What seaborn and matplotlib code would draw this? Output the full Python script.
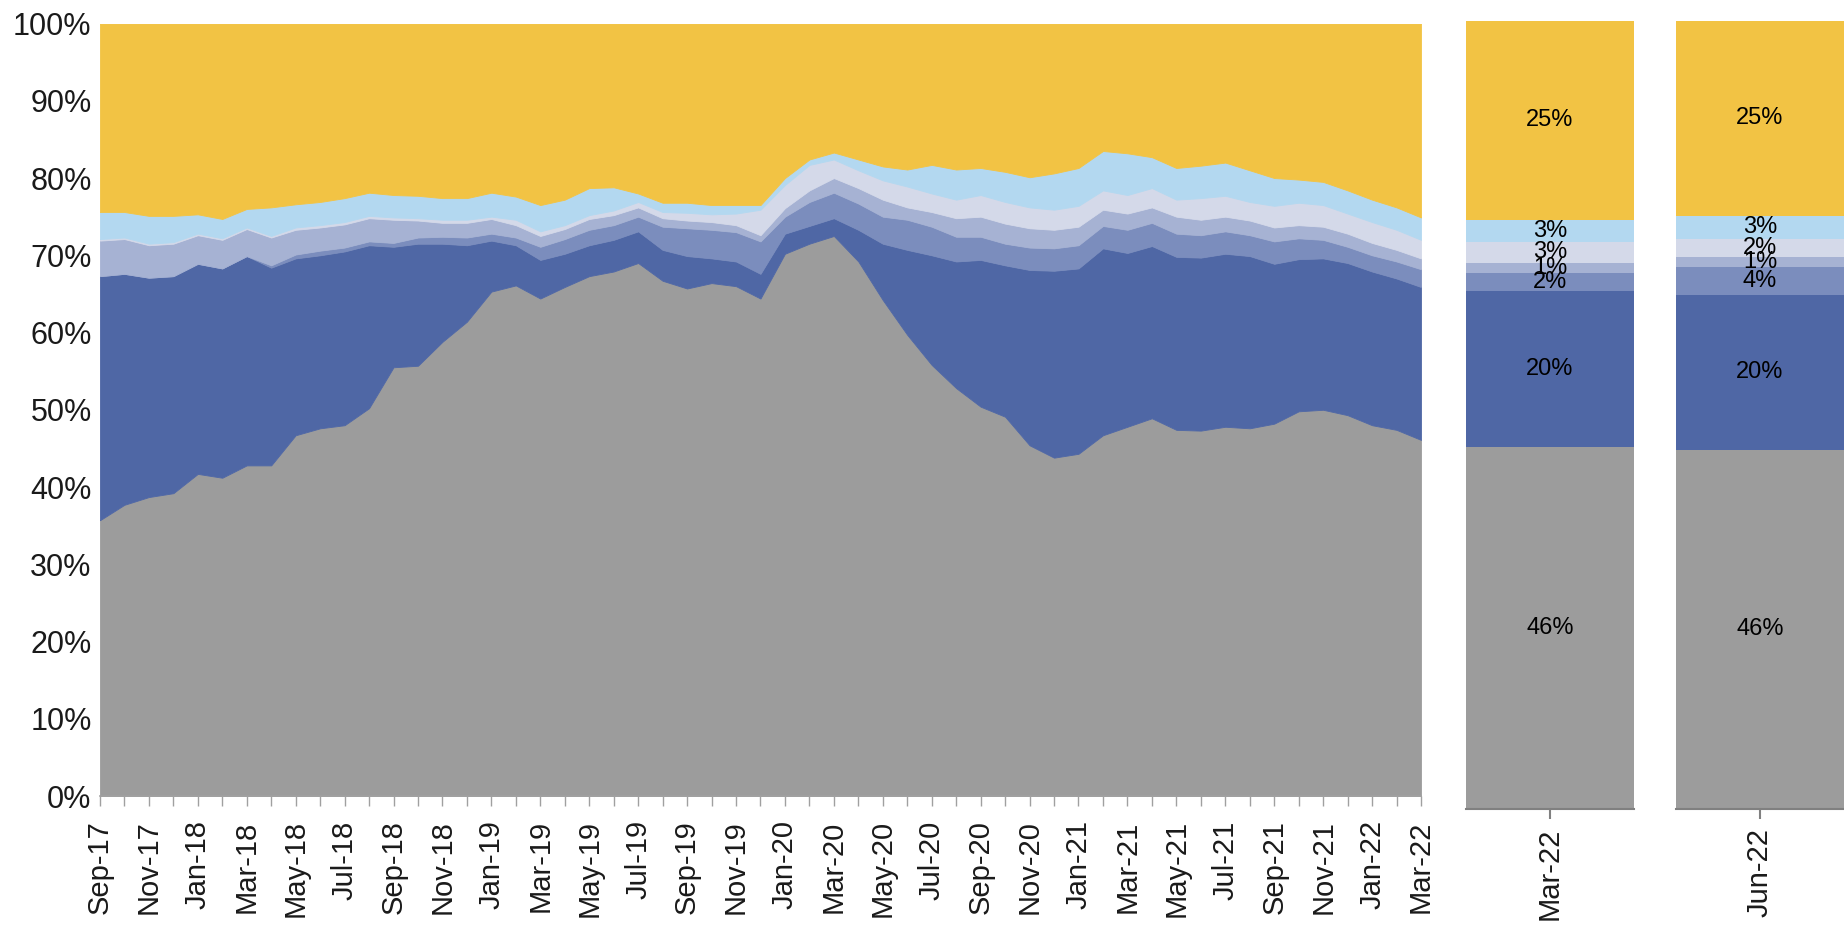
import numpy as np
import pandas as pd
import seaborn as sns
import matplotlib
matplotlib.use("Agg")
import matplotlib.pyplot as plt

sns.set_theme(style="white")
plt.rcParams["font.family"] = ["Liberation Sans", "DejaVu Sans"]

# months Sep-17 .. Mar-22
months = pd.date_range("2017-09-01", periods=55, freq="MS").strftime("%b-%y").tolist()

# shares (%), bottom layer first
grey = [35.7, 37.7, 38.7, 39.2, 41.7, 41.2, 42.8, 42.8, 46.7, 47.6, 48.0, 50.2, 55.5, 55.7, 58.8,
        61.4, 65.3, 66.1, 64.4, 65.9, 67.3, 67.9, 69.0, 66.7, 65.7, 66.4, 66.0, 64.4,
        70.2, 71.5, 72.5, 69.2, 64.2, 59.7, 55.8, 52.8, 50.4, 49.1, 45.4, 43.8, 44.3, 46.7, 47.8,
        48.9, 47.4, 47.3, 47.8, 47.6, 48.2, 49.8, 50.0, 49.3, 48.0, 47.4, 46.1]
dark_blue = [31.6, 29.9, 28.4, 28.1, 27.2, 27.1, 27.1, 25.6, 22.9, 22.4, 22.5, 21.1, 15.6, 15.8, 12.7,
             9.9, 6.6, 5.2, 5.0, 4.3, 4.0, 4.1, 4.1, 4.0, 4.2, 3.2, 3.2, 3.2,
             2.6, 2.3, 2.3, 4.1, 7.3, 11.0, 14.2, 16.4, 19.0, 19.6, 22.7, 24.2, 24.0, 24.2, 22.5,
             22.3, 22.4, 22.4, 22.4, 22.3, 20.7, 19.7, 19.6, 19.7, 19.9, 19.6, 19.8]
mid_blue = [0, 0, 0, 0, 0, 0, 0, 0.3, 0.5, 0.6, 0.5, 0.5, 0.5, 0.8, 0.9,
            1.0, 0.9, 1.0, 1.7, 1.9, 2.0, 1.9, 1.9, 3.0, 3.6, 3.7, 3.8, 4.2,
            2.2, 3.1, 3.3, 3.4, 3.5, 3.9, 3.7, 3.2, 3.0, 2.8, 2.9, 2.9, 3.0, 2.9, 3.0,
            3.0, 3.0, 2.9, 2.9, 2.7, 2.9, 2.7, 2.4, 2.1, 2.1, 2.2, 2.3]
lavender = [4.6, 4.5, 4.2, 4.2, 3.7, 3.7, 3.5, 3.6, 3.2, 3.0, 3.0, 3.0, 3.0, 2.2, 1.8,
            1.9, 1.9, 1.6, 1.4, 1.3, 1.4, 1.3, 1.2, 1.1, 1.0, 1.0, 0.9, 0.8,
            1.1, 1.5, 1.9, 2.0, 2.2, 1.6, 1.9, 2.4, 2.6, 2.6, 2.5, 2.4, 2.4, 2.1, 2.1,
            2.0, 2.2, 2.0, 1.9, 1.9, 1.8, 1.7, 1.7, 1.7, 1.6, 1.5, 1.4]
pale = [0.2, 0.2, 0.2, 0.2, 0.2, 0.2, 0.2, 0.2, 0.3, 0.3, 0.3, 0.3, 0.3, 0.3, 0.4,
        0.4, 0.3, 0.7, 0.6, 0.5, 0.5, 0.6, 0.7, 0.8, 1.0, 1.0, 1.5, 3.3,
        3.0, 3.3, 2.4, 2.3, 2.5, 2.7, 2.4, 2.4, 2.8, 2.8, 2.7, 2.6, 2.7, 2.5, 2.4,
        2.5, 2.2, 2.8, 2.7, 2.4, 2.8, 2.9, 2.8, 2.6, 2.7, 2.6, 2.4]
light_blue = [3.5, 3.3, 3.6, 3.4, 2.5, 2.5, 2.4, 3.7, 3.0, 3.0, 3.1, 3.0, 2.9, 2.9, 2.8,
              2.8, 3.1, 3.0, 3.4, 3.3, 3.5, 3.0, 1.1, 1.2, 1.3, 1.2, 1.1, 0.6,
              0.9, 0.7, 0.9, 1.4, 1.8, 2.2, 3.7, 3.9, 3.5, 3.9, 3.9, 4.7, 4.9, 5.1, 5.4,
              4.0, 4.1, 4.2, 4.3, 4.1, 3.6, 3.0, 3.0, 3.0, 2.9, 2.9, 2.9]
yellow = [24.4, 24.4, 24.9, 24.9, 24.7, 25.3, 24.0, 23.8, 23.4, 23.1, 22.6, 21.9, 22.2, 22.3, 22.6,
          22.6, 21.9, 22.4, 23.5, 22.8, 21.3, 21.2, 22.0, 23.2, 23.2, 23.5, 23.5, 23.5,
          20.0, 17.6, 16.7, 17.6, 18.5, 18.9, 18.3, 18.9, 18.7, 19.2, 19.9, 19.4, 18.7, 16.5, 16.8,
          17.3, 18.7, 18.4, 18.0, 19.0, 20.0, 20.2, 20.5, 21.6, 22.8, 23.8, 25.1]

# the two snapshot bars
bar_labels = ["Mar-22", "Jun-22"]
bar_mar22 = [45.9, 19.8, 2.3, 1.3, 2.7, 2.8, 25.2]
bar_jun22 = [45.6, 19.6, 3.6, 1.2, 2.3, 3.0, 24.7]

colors = ["#9c9c9c", "#4f67a5", "#7b8dbd", "#a6b2d3", "#d4d9e9", "#b3d8f0", "#f2c344"]

df = pd.DataFrame({"grey": grey, "dark_blue": dark_blue, "mid_blue": mid_blue,
                   "lavender": lavender, "pale": pale, "light_blue": light_blue,
                   "yellow": yellow}, index=months)
df = df.div(df.sum(axis=1), axis=0) * 100

tick_col = "#a0a0a0"
txt_col = "#1a1a1a"

fig = plt.figure(figsize=(18.44, 9.27), dpi=100)

# stacked area
ax = fig.add_axes([0.0542, 0.1413, 0.7164, 0.8333])
x = np.arange(len(months))
polys = ax.stackplot(x, *[df[c] for c in df.columns], colors=colors, linewidth=0)
for p, c in zip(polys, colors):
    p.set_edgecolor(c)
    p.set_linewidth(0.6)
ax.set_xlim(0, len(months) - 1)
ax.set_ylim(0, 100)
ax.set_yticks(range(0, 101, 10))
ax.set_yticklabels([f"{v}%" for v in range(0, 101, 10)], fontsize=22, color=txt_col)
ax.tick_params(axis="y", length=0, pad=6)
ax.set_xticks(x)
ax.set_xticklabels([m if i % 2 == 0 else "" for i, m in enumerate(months)],
                   rotation=90, fontsize=21, color=txt_col)
ax.tick_params(axis="x", bottom=True, length=7.5, width=1, color=tick_col, pad=10)
for s in ["top", "right", "left"]:
    ax.spines[s].set_visible(False)
ax.spines["bottom"].set_color(tick_col)
ax.spines["bottom"].set_linewidth(1.2)
ax.grid(False)

# snapshot bars
for left, lab, vals in zip([0.7950, 0.9089], bar_labels, [bar_mar22, bar_jun22]):
    bax = fig.add_axes([left, 0.1273, 0.0911, 0.85])
    bottom = 0
    for v, c in zip(vals, colors):
        bax.bar(0, v, bottom=bottom, width=0.8, color=c, linewidth=0)
        bax.text(0, bottom + v / 2, f"{round(v)}%", ha="center", va="center",
                 fontsize=17, color="black")
        bottom += v
    bax.set_xlim(-0.4, 0.4)
    bax.set_ylim(0, 100)
    bax.set_yticks([])
    bax.set_xticks([0])
    bax.set_xticklabels([lab], rotation=90, fontsize=21, color=txt_col)
    bax.tick_params(axis="x", bottom=True, length=7.5, width=1.5, color="#808080", pad=6)
    for s in ["top", "right", "left"]:
        bax.spines[s].set_visible(False)
    bax.spines["bottom"].set_color("#808080")
    bax.spines["bottom"].set_linewidth(1.5)
    bax.grid(False)

plt.savefig("out.png", dpi=100)
